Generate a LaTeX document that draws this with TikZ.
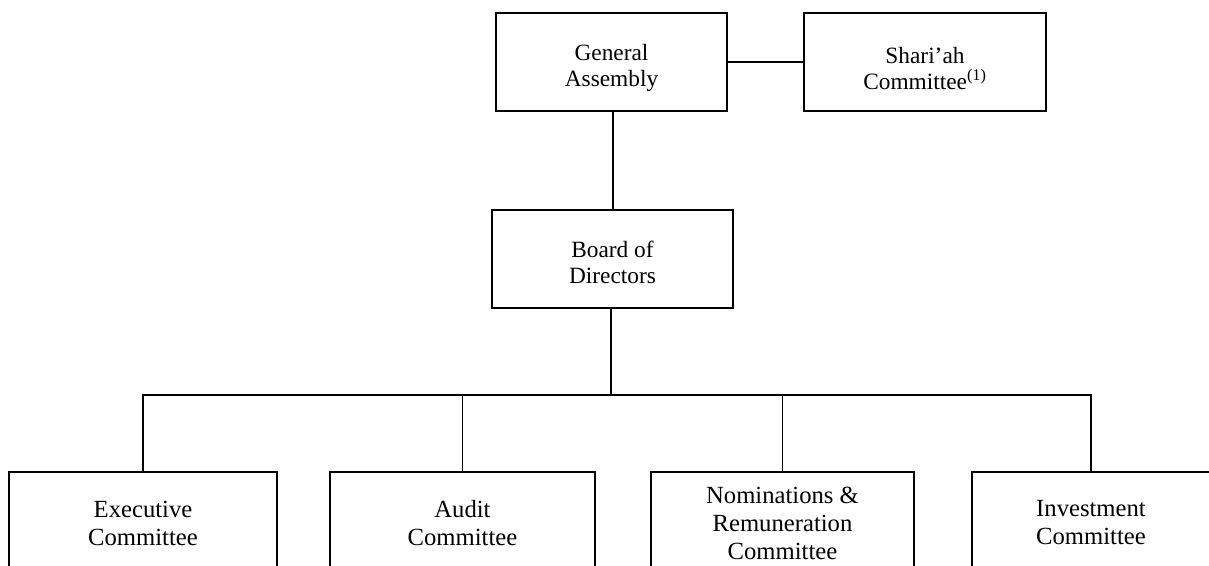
\documentclass[tikz,border=0pt]{standalone}
\usepackage{fontspec}
\setmainfont{Liberation Serif}
\begin{document}
\begin{tikzpicture}[x=0.75pt,y=-0.75pt,
  box/.style={draw, line width=1pt, inner sep=0pt, align=center, anchor=center},
  topbox/.style={box, minimum height=73.5pt, font=\fontsize{17.5}{19.5}\selectfont},
  botbox/.style={box, minimum height=76.5pt, font=\fontsize{18.5}{21}\selectfont},
  link/.style={line width=1pt}]
\path[use as bounding box, clip] (0,0) rectangle (1209,565);
\fill[white] (0,0) rectangle (1209,565);
\node[topbox, minimum width=173.25pt] (ga) at (611.5,62) {\rule{0pt}{21.5pt}General\\Assembly};
\node[topbox, minimum width=181.5pt] (sc) at (925,62) {\rule{0pt}{21.5pt}Shari’ah\\Committee\textsuperscript{(1)}};
\node[topbox, minimum width=180.75pt] (bod) at (612.5,259) {\rule{0pt}{17pt}Board of\\Directors};
\node[botbox, minimum width=201pt] (ex) at (143,523) {Executive\\Committee};
\node[botbox, minimum width=198.75pt] (au) at (462.5,523) {Audit\\Committee};
\node[botbox, minimum width=197.25pt] (nr) at (782.5,523) {Nominations \&\\Remuneration\\Committee};
\node[botbox, minimum width=178.5pt] (iv) at (1091,523) {Investment\\Committee};
\coordinate (bus) at (611,395);
\draw[link] (ga.east) -- (sc.west);
\draw[link] ([xshift=1pt]ga.south) -- ([xshift=1pt]ga.south |- bod.north);
\draw[link] (bus |- bod.south) -- (bus);
\draw[link] (ex.north) |- (bus) -| (iv.north);
\draw[link] (au.north) -- (au.north |- bus);
\draw[link] (nr.north) -- (nr.north |- bus);
\end{tikzpicture}
\end{document}
